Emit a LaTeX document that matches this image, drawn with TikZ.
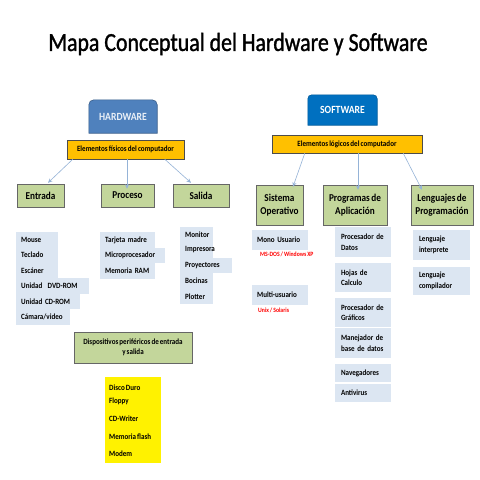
\documentclass[tikz,border=0pt]{standalone}
\usepackage{fontspec}
\setmainfont{Carlito}[FakeStretch=0.88, WordSpace=0.7]
\newfontfamily\titlefont{Carlito}[FakeStretch=0.84, FakeBold=1.2]
\usetikzlibrary{arrows.meta,backgrounds}
\definecolor{hwblue}{HTML}{4F81BD}
\definecolor{hwborder}{HTML}{385D8A}
\definecolor{swblue}{HTML}{0070C0}
\definecolor{gold}{HTML}{FFC000}
\definecolor{greenbox}{HTML}{C3D69B}
\definecolor{itemfill}{HTML}{DCE6F2}
\definecolor{arrowc}{HTML}{95B3D7}
\tikzset{
  ttl/.style={font=\titlefont\fontsize{26}{30}\selectfont},
  headbox/.style={inner sep=0pt, text=white, font=\bfseries\fontsize{11}{12}\selectfont},
  elembox/.style={draw=black!70, fill=gold, inner sep=0pt, font=\bfseries\fontsize{8}{9}\selectfont},
  catbox/.style={draw=black!60, fill=greenbox, inner sep=0pt, align=center, font=\bfseries\fontsize{10.5}{12.5}\selectfont},
  item/.style={fill=itemfill, anchor=west, inner xsep=5pt, inner ysep=0pt, minimum height=15.5pt, text width=#1, align=left, font=\bfseries\fontsize{8}{10}\selectfont},
  mitem/.style={fill=itemfill, inner xsep=6pt, inner ysep=0pt, align=left, font=\bfseries\fontsize{8}{10.5}\selectfont},
  redtxt/.style={text=red, anchor=west, inner sep=0pt, font=\bfseries\fontsize{6.5}{7}\selectfont},
  ytxt/.style={anchor=west, inner sep=0pt, font=\bfseries\fontsize{8}{10}\selectfont},
  conn/.style={draw=arrowc, line width=0.6pt, -{Stealth[length=4.5pt,width=4pt]}}
}
\begin{document}
\begin{tikzpicture}[x=1pt,y=-1pt]
\useasboundingbox (0,0) rectangle (480,480);
\node[ttl] (title) at (238,44) {Mapa Conceptual del Hardware y Software};

% headers
\node[headbox, minimum width=68pt, minimum height=33pt, text=white!88!hwblue] (hw) at (123,116.5) {HARDWARE};
\node[headbox, minimum width=69pt, minimum height=30pt] (sw) at (342.5,110) {SOFTWARE};
\begin{scope}[on background layer]
\fill[white] (0,0) rectangle (480,480);
\draw[fill=hwblue, draw=hwborder, line width=0.6pt] (hw.south west) [rounded corners=5pt] -- (hw.north west) -- (hw.north east) [sharp corners] -- (hw.south east) -- cycle;
\draw[fill=swblue, draw=swblue!80!black, line width=0.6pt] (sw.south west) [rounded corners=4pt] -- (sw.north west) -- (sw.north east) [sharp corners] -- (sw.south east) -- cycle;
\end{scope}

\node[elembox, minimum width=117pt, minimum height=19pt] (ef) at (125.5,149.5) {Elementos físicos del computador};
\node[elembox, minimum width=150pt, minimum height=18pt] (el) at (347,144) {Elementos lógicos del computador};

% categories
\node[catbox, minimum width=47pt, minimum height=23pt] (entrada) at (40.5,195.5) {Entrada};
\node[catbox, minimum width=53pt, minimum height=23pt] (proceso) at (127.5,195.5) {Proceso};
\node[catbox, minimum width=56pt, minimum height=23pt] (salida) at (201,195.5) {Salida};
\node[catbox, minimum width=47pt, minimum height=40pt] (so) at (279.5,205) {Sistema\\Operativo};
\node[catbox, minimum width=64pt, minimum height=40pt] (pa) at (355,205) {Programas de\\Aplicación};
\node[catbox, minimum width=62pt, minimum height=40pt] (lp) at (442,205) {Lenguajes de\\Programación};

% arrows
\draw[conn] ([xshift=6pt]ef.south west) -- ([xshift=7.5pt,yshift=1pt]entrada.north);
\draw[conn] ([xshift=1.5pt]ef.south) -- ([xshift=-0.5pt,yshift=-5pt]proceso.north);
\draw[conn] ([xshift=-19.5pt]ef.south east) -- ([xshift=-10pt,yshift=1pt]salida.north);
\draw[conn] ([xshift=33pt]el.south west) -- ([xshift=13.5pt,yshift=-2pt]so.north);
\draw[conn] ([xshift=11pt]el.south) -- ([xshift=3pt,yshift=-5pt]pa.north);
\draw[conn] ([xshift=-19pt]el.south east) -- ([xshift=-20pt,yshift=-5pt]lp.north);

% Entrada list
\node[item=32pt] (e1) at (16,239.5) {Mouse};
\node[item=32pt] (e2) at (16,255) {Teclado};
\node[item=32pt] (e3) at (16,270.5) {Escáner};
\node[item=63pt] (e4) at (16,286) {Unidad~~DVD-ROM};
\node[item=54pt] (e5) at (16,301.5) {Unidad~CD-ROM};
\node[item=44pt] (e6) at (16,317) {Cámara/video};

% Proceso list
\node[item=45pt] (p1) at (100,240) {Tarjeta~madre};
\node[item=55pt] (p2) at (100,255.5) {Microprocesador};
\node[item=45pt] (p3) at (100,271) {Memoria~RAM};

% Salida list
\node[item=23pt] (s1) at (180,234.5) {Monitor};
\node[item=23pt] (s2) at (180,250) {Impresora};
\node[item=42pt] (s3) at (180,265.5) {Proyectores};
\node[item=23pt] (s4) at (180,281) {Bocinas};
\node[item=23pt] (s5) at (180,296.5) {Plotter};

% Sistema operativo
\node[item=46pt, minimum height=20pt] (mono) at (252,240) {Mono~Usuario};
\node[redtxt] (msdos) at (260,254.5) {MS-DOS / Windows XP};
\node[item=46pt, minimum height=20pt] (multi) at (252,295) {Multi-usuario};
\node[redtxt] (unix) at (258,310) {Unix / Solaris};

% Programas
\node[mitem, minimum width=56pt, minimum height=30pt, text width=44pt] (a1) at (363,242) {Procesador~de\\Datos};
\node[mitem, minimum width=56pt, minimum height=29pt, text width=44pt] (a2) at (363,277.5) {Hojas de\\Calculo};
\node[mitem, minimum width=56pt, minimum height=29pt, text width=44pt] (a3) at (363,312.5) {Procesador~de\\Gráficos};
\node[mitem, minimum width=56pt, minimum height=30pt, text width=44pt] (a4) at (363,343) {Manejador~de\\base~de~datos};
\node[mitem, minimum width=56pt, minimum height=18pt, text width=44pt] (a5) at (363,373) {Navegadores};
\node[mitem, minimum width=56pt, minimum height=18pt, text width=44pt] (a6) at (363,393) {Antivirus};

% Lenguajes
\node[mitem, minimum width=57pt, minimum height=30pt, text width=45pt] (l1) at (441.5,245) {Lenguaje\\interprete};
\node[mitem, minimum width=57pt, minimum height=28pt, text width=45pt] (l2) at (441.5,281) {Lenguaje\\compilador};

% Dispositivos
\node[catbox, minimum width=118pt, minimum height=31pt, font=\bfseries\fontsize{8}{10}\selectfont] (dp) at (133,347.5) {Dispositivos periféricos de entrada\\y salida};
\node[fill=yellow, minimum width=56pt, minimum height=86pt, inner sep=0pt] (yb) at (133,420) {};
\node[ytxt] (d1) at (109,387.5) {Disco Duro};
\node[ytxt] (d2) at (109,401.5) {Floppy};
\node[ytxt] (d3) at (109,418.5) {CD-Writer};
\node[ytxt] (d4) at (109,436.5) {Memoria flash};
\node[ytxt] (d5) at (109,454) {Modem};
\end{tikzpicture}
\end{document}
